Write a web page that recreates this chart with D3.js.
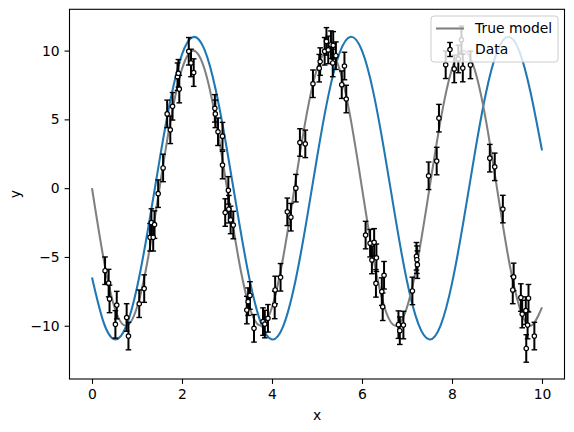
<!DOCTYPE html>
<html>
<head>
<meta charset="utf-8">
<script src="https://cdn.jsdelivr.net/npm/d3@7"></script>
<style>
  body { margin: 0; background: #fff; }
  svg { display: block; font-family: "DejaVu Sans", sans-serif; }
</style>
</head>
<body>
<svg id="chart" width="574" height="432"></svg>
<script>
// grid used for the two smooth curves
const gridX = [0, 0.25, 0.5, 0.75, 1, 1.25, 1.5, 1.75, 2, 2.25, 2.5, 2.75, 3, 3.25, 3.5, 3.75,
  4, 4.25, 4.5, 4.75, 5, 5.25, 5.5, 5.75, 6, 6.25, 6.5, 6.75, 7, 7.25, 7.5, 7.75,
  8, 8.25, 8.5, 8.75, 9, 9.25, 9.5, 9.75, 10];

// gray "True model" curve
const trueY = [0, -5, -8.66, -10, -8.66, -5, 0, 5, 8.66, 10, 8.66, 5,
  0, -5, -8.66, -10, -8.66, -5, 0, 5, 8.66, 10, 8.66, 5,
  0, -5, -8.66, -10, -8.66, -5, 0, 5, 8.66, 10, 8.66, 5,
  0, -5, -8.66, -10, -8.66];

// blue fitted curve
const fitY = [-6.5, -9.68, -10.99, -10.11, -7.22, -2.88, 2.02, 6.52, 9.73, 10.99, 10.07, 7.14,
  2.79, -2.11, -6.61, -9.77, -11.0, -10.03, -7.06, -2.7, 2.21, 6.69, 9.81, 11.0,
  9.99, 7.0, 2.6, -2.31, -6.77, -9.85, -11.0, -9.95, -6.92, -2.51, 2.4, 6.84,
  9.9, 11.0, 9.93, 6.9, 2.75];

// measured data points
const dataX = [0.29, 0.37, 0.39, 0.52, 0.55, 0.77, 0.81, 1.05, 1.16, 1.29,
  1.32, 1.36, 1.39, 1.47, 1.58, 1.67, 1.74, 1.79, 1.90, 1.92,
  1.94, 2.15, 2.20, 2.26, 2.73, 2.74, 2.80, 2.90, 2.90, 2.96,
  3.03, 3.04, 3.08, 3.14, 3.44, 3.47, 3.51, 3.60, 3.80, 3.84,
  3.91, 4.06, 4.07, 4.19, 4.34, 4.42, 4.53, 4.62, 4.74, 4.91,
  5.05, 5.07, 5.17, 5.21, 5.25, 5.31, 5.35, 5.36, 5.42, 5.55,
  5.61, 5.65, 6.08, 6.18, 6.22, 6.27, 6.32, 6.31, 6.44, 6.49,
  6.46, 6.81, 6.84, 6.92, 7.12, 7.21, 7.22, 7.23, 7.48, 7.66,
  7.71, 7.86, 8.05, 8.14, 8.21, 8.24, 8.41, 8.84, 8.95, 9.13,
  9.35, 9.37, 9.53, 9.56, 9.64, 9.65, 9.68, 9.70, 9.83];
const dataY = [-6.0, -6.9, -8.05, -9.9, -8.5, -9.4, -10.75, -8.4, -7.3, -3.57,
  -2.5, -3.57, -2.65, -0.4, 1.47, 5.4, 4.24, 5.95, 8.1, 8.35,
  7.2, 9.95, 9.1, 8.4, 5.8, 5.4, 4.1, 3.78, 1.68, -1.77,
  -0.16, -1.53, -2.31, -2.68, -8.86, -8.25, -7.8, -10.19, -9.7, -9.88,
  -9.46, -8.49, -7.4, -6.48, -1.72, -2.11, 0.0, 3.32, 3.22, 7.59,
  8.72, 9.2, 9.95, 10.67, 10.05, 10.43, 9.1, 10.38, 9.63, 7.52,
  8.88, 6.48, -3.41, -4.0, -5.22, -3.94, -5.06, -6.92, -7.52, -6.33,
  -8.62, -9.92, -10.36, -9.95, -7.47, -4.95, -5.2, -5.56, 0.9, 1.97,
  5.09, 8.97, 8.67, 9.39, 10.78, 8.73, 8.96, 2.18, 1.55, -1.52,
  -7.4, -6.45, -7.95, -9.15, -8.9, -11.65, -9.95, -8.0, -10.75];
const yErr = 1.0;

const xTicks = [0, 2, 4, 6, 8, 10];
const yTicks = [-10, -5, 0, 5, 10];

const svg = d3.select("#chart");
const box = { left: 69.5, right: 564.5, top: 9.3, bottom: 379 };
const fontSize = 13.9;

// matplotlib-ish 5% margins
const xMin = 0, xMax = 10;
const yLo = d3.min([d3.min(dataY) - yErr, d3.min(fitY), d3.min(trueY)]);
const yHi = d3.max([d3.max(dataY) + yErr, d3.max(fitY), d3.max(trueY)]);
const xPad = (xMax - xMin) * 0.05, yPad = (yHi - yLo) * 0.05;

const x = d3.scaleLinear().domain([xMin - xPad, xMax + xPad]).range([box.left, box.right]);
const y = d3.scaleLinear().domain([yLo - yPad, yHi + yPad]).range([box.bottom, box.top]);

const plot = svg.append("g");
plot.append("clipPath").attr("id", "clip")
  .append("rect").attr("x", box.left).attr("y", box.top)
  .attr("width", box.right - box.left).attr("height", box.bottom - box.top);

const line = d3.line()
  .x((d, i) => x(gridX[i]))
  .y(d => y(d))
  .curve(d3.curveNatural);

plot.append("path")
  .attr("d", line(fitY))
  .attr("fill", "none")
  .attr("stroke", "#1f77b4")
  .attr("stroke-width", 2.08)
  .attr("clip-path", "url(#clip)");

plot.append("path")
  .attr("d", line(trueY))
  .attr("fill", "none")
  .attr("stroke", "gray")
  .attr("stroke-width", 2.08)
  .attr("clip-path", "url(#clip)");

// error bars
const cap = 2.8;
const bars = plot.append("g").attr("stroke", "black").attr("stroke-width", 2);
dataX.forEach((dx, i) => {
  const px = x(dx), y0 = y(dataY[i] - yErr), y1 = y(dataY[i] + yErr);
  bars.append("line").attr("x1", px).attr("x2", px).attr("y1", y0).attr("y2", y1);
  bars.append("line").attr("x1", px - cap).attr("x2", px + cap).attr("y1", y0).attr("y2", y0).attr("stroke-width", 1.4);
  bars.append("line").attr("x1", px - cap).attr("x2", px + cap).attr("y1", y1).attr("y2", y1).attr("stroke-width", 1.4);
});

plot.append("g").selectAll("circle")
  .data(dataX)
  .enter().append("circle")
  .attr("cx", d => x(d))
  .attr("cy", (d, i) => y(dataY[i]))
  .attr("r", 2.2)
  .attr("fill", "white")
  .attr("stroke", "black")
  .attr("stroke-width", 1.2);

// axes
const xAxis = svg.append("g")
  .attr("transform", "translate(0," + box.bottom + ")")
  .call(d3.axisBottom(x).tickValues(xTicks).tickSize(4.9).tickPadding(4.9).tickFormat(d3.format("d")));
const yAxis = svg.append("g")
  .attr("transform", "translate(" + box.left + ",0)")
  .call(d3.axisLeft(y).tickValues(yTicks).tickSize(4.9).tickPadding(4.9).tickFormat(d3.format("d")));
[xAxis, yAxis].forEach(a => {
  a.select(".domain").remove();
  a.selectAll(".tick line").attr("stroke", "black").attr("stroke-width", 1.1);
  a.selectAll(".tick text").attr("fill", "black")
    .style("font-size", fontSize + "px").style("font-family", "DejaVu Sans, sans-serif");
});

svg.append("rect")
  .attr("x", box.left).attr("y", box.top)
  .attr("width", box.right - box.left).attr("height", box.bottom - box.top)
  .attr("fill", "none").attr("stroke", "black").attr("stroke-width", 1.1);

svg.append("text")
  .attr("x", (box.left + box.right) / 2).attr("y", 420)
  .attr("text-anchor", "middle")
  .style("font-size", fontSize + "px")
  .text("x");

svg.append("text")
  .attr("transform", "translate(20," + ((box.top + box.bottom) / 2) + ") rotate(-90)")
  .attr("text-anchor", "middle")
  .style("font-size", fontSize + "px")
  .text("y");

// legend
const lg = svg.append("g");
lg.append("rect")
  .attr("x", 431).attr("y", 16).attr("width", 127).attr("height", 46).attr("rx", 3)
  .attr("fill", "white").attr("fill-opacity", 0.8)
  .attr("stroke", "#cccccc").attr("stroke-width", 1);

lg.append("line")
  .attr("x1", 436).attr("x2", 464).attr("y1", 28.5).attr("y2", 28.5)
  .attr("stroke", "gray").attr("stroke-width", 2.08);

lg.append("line")
  .attr("x1", 450).attr("x2", 450).attr("y1", 42.5).attr("y2", 56.5)
  .attr("stroke", "black").attr("stroke-width", 2);
[42.5, 56.5].forEach(cy => {
  lg.append("line")
    .attr("x1", 450 - cap).attr("x2", 450 + cap).attr("y1", cy).attr("y2", cy)
    .attr("stroke", "black").attr("stroke-width", 1.4);
});
lg.append("circle")
  .attr("cx", 450).attr("cy", 49.5).attr("r", 2.2)
  .attr("fill", "white").attr("stroke", "black").attr("stroke-width", 1.2);

lg.selectAll("text.lab")
  .data(["True model", "Data"])
  .enter().append("text")
  .attr("class", "lab")
  .attr("x", 475)
  .attr("y", (d, i) => 28.5 + i * 21)
  .attr("dy", "0.35em")
  .style("font-size", fontSize + "px")
  .text(d => d);
</script>
</body>
</html>
